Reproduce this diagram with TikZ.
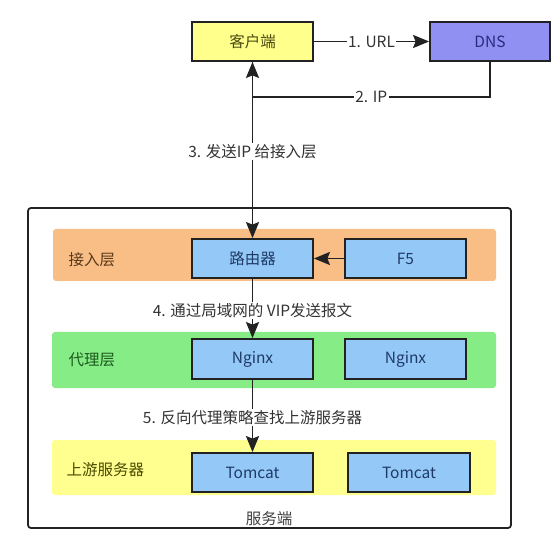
\documentclass[tikz,border=0pt]{standalone}
\usepackage{fontspec}
\setmainfont{Noto Sans CJK SC}
\usetikzlibrary{arrows.meta}
\definecolor{clientfill}{HTML}{FFFF8C}
\definecolor{dnsfill}{HTML}{9090F2}
\definecolor{boxfill}{HTML}{94C8F7}
\definecolor{orangeband}{HTML}{F9BD86}
\definecolor{greenband}{HTML}{86EC86}
\definecolor{yellowband}{HTML}{FFFF90}
\definecolor{boxtext}{HTML}{1F3A66}
\definecolor{edge}{HTML}{222222}
\definecolor{ltext}{HTML}{5A3A1A}
\definecolor{gtext}{HTML}{1E5A1E}
\definecolor{ytext}{HTML}{4A4A00}
\definecolor{ctext}{HTML}{4A4A10}
\definecolor{dtext}{HTML}{2A2A80}
\tikzset{
  box/.style={draw=edge, line width=1.8pt, minimum width=121pt, minimum height=39pt, inner sep=0pt, font=\fontsize{15.5}{18}\selectfont},
  bluebox/.style={box, fill=boxfill, text=boxtext},
  band/.style={rounded corners=3pt},
  bandlabel/.style={anchor=west, font=\fontsize{15.5}{18}\selectfont},
  lbl/.style={fill=white, inner sep=1.5pt, font=\fontsize{15.5}{18}\selectfont, text=black!80},
  conn/.style={draw=edge, line width=1.8pt, -{Stealth[length=16pt,width=13pt,inset=2.5pt]}},
  plain/.style={draw=edge, line width=1.8pt}
}
\begin{document}
\begin{tikzpicture}[x=1pt,y=-1pt]
\useasboundingbox[fill=white] (0,0) rectangle (557,537);
% outer server box
\draw[edge, line width=1.8pt, rounded corners=3pt] (28,208) rectangle (511,528);
% bands
\fill[band, orangeband] (53,229) rectangle (496,281);
\fill[band, greenband] (52,332) rectangle (496,388);
\fill[band, yellowband] (52,440) rectangle (496,495);
\node[bandlabel, text=ltext] (l1) at (65,260) {接入层};
\node[bandlabel, text=gtext] (l2) at (65,360) {代理层};
\node[bandlabel, text=ytext] (l3) at (63,470) {上游服务器};
\node[font=\fontsize{15.5}{18}\selectfont, text=black!75] (server) at (269,519) {服务端};
% nodes
\node[box, fill=clientfill, text=ctext] (client) at (252.5,41.5) {客户端};
\node[box, fill=dnsfill, text=dtext, minimum width=120pt] (dns) at (490,41.5) {DNS};
\node[bluebox] (router) at (252.5,258.5) {路由器};
\node[bluebox] (f5) at (405.5,258.5) {F5};
\node[bluebox, minimum height=40pt] (nginx1) at (252.5,359) {Nginx};
\node[bluebox, minimum height=40pt] (nginx2) at (405.5,359) {Nginx};
\node[bluebox] (tomcat1) at (252.5,472.5) {Tomcat};
\node[bluebox, minimum width=122pt] (tomcat2) at (409,472.5) {Tomcat};
% connectors
\coordinate (dnsdown) at (490,97);
\coordinate (join) at (252.5,97);
\draw[conn] (client) -- (dns) node[midway, lbl] {1. URL};
\draw[conn] (dns.south) -- (dnsdown) -- node[midway, lbl] {2. IP} (join) -- (client.south);
\draw[conn] (client.south) -- (router.north) node[pos=0.51, lbl] {3. 发送IP 给接入层};
\draw[conn] (f5) -- (router);
\draw[conn] (router.south) -- (nginx1.north) node[pos=0.53, lbl] {4. 通过局域网的 VIP发送报文};
\draw[conn] (nginx1.south) -- (tomcat1.north) node[pos=0.52, lbl] {5. 反向代理策略查找上游服务器};
\end{tikzpicture}
\end{document}
